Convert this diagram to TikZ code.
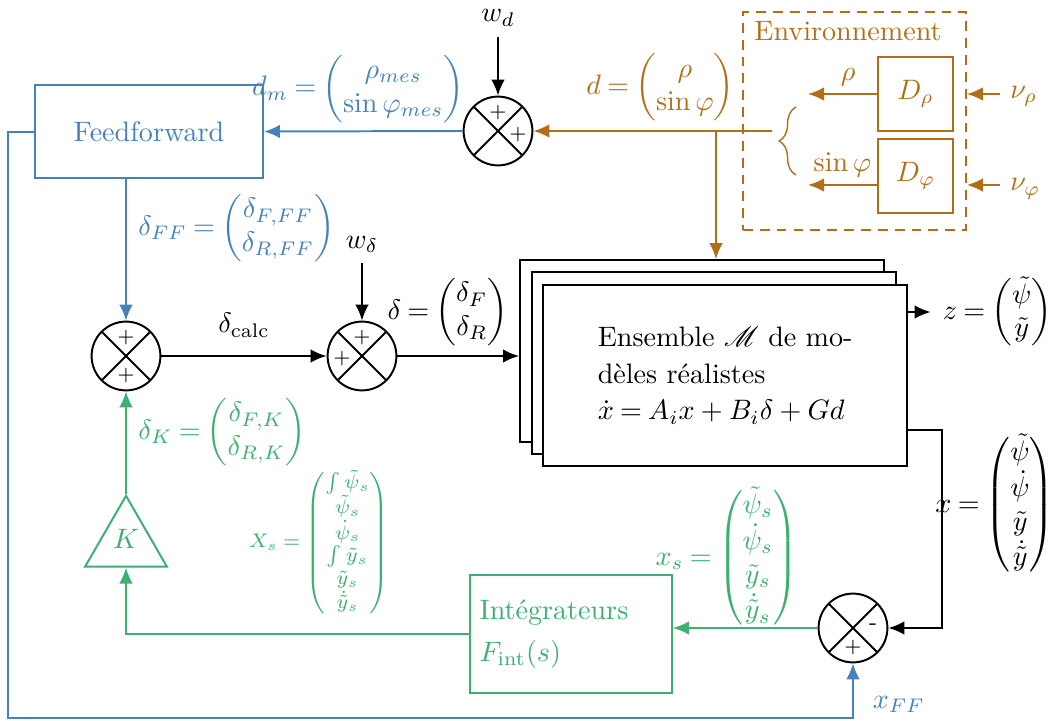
\documentclass[tikz,border=0pt]{standalone}
\usepackage{amsmath}
\usepackage{mathrsfs}
\usepackage{tikz}
\usetikzlibrary{arrows.meta,positioning,shapes.geometric,calc,decorations.pathreplacing}
\definecolor{ffblue}{RGB}{70,130,185}
\definecolor{envbrown}{RGB}{178,110,22}
\definecolor{fbgreen}{RGB}{60,176,110}
\thickmuskip=4mu plus 2mu

\begin{document}
\begin{tikzpicture}[
  line width=0.7pt, >={Latex[length=2mm,width=1.7mm]},
  block/.style={draw, rectangle, inner sep=0},
  sumnode/.style={draw, circle, minimum size=0.86cm, inner sep=0,
                  path picture={\draw (path picture bounding box.north west) -- (path picture bounding box.south east)
                                      (path picture bounding box.north east) -- (path picture bounding box.south west);}},
  sign/.style={font=\scriptsize, inner sep=0},
  model/.style={draw, fill=white, minimum width=4.55cm, minimum height=2.27cm},
]
\useasboundingbox (0,0) rectangle (13.2125,9.0);

% feedforward
\node[block, draw=ffblue, text=ffblue, minimum width=2.85cm, minimum height=1.16cm] (ff) at (1.8625,7.356) {Feedforward};

% summing junctions
\node[sumnode] (s1) at (6.225,7.3625) {};
\node[sign] at ($(s1)+(0,0.23)$) {$+$};
\node[sign] at ($(s1)+(0.25,-0.04)$) {$+$};
\node[sumnode] (s2) at (1.575,4.55) {};
\node[sign] at ($(s2)+(0,0.23)$) {$+$};
\node[sign] at ($(s2)+(0,-0.25)$) {$+$};
\node[sumnode] (s3) at (4.525,4.55) {};
\node[sign] at ($(s3)+(0,0.23)$) {$+$};
\node[sign] at ($(s3)+(-0.25,-0.03)$) {$+$};
\node[sumnode] (s4) at (10.6625,1.15) {};
\node[sign, font=\footnotesize] at ($(s4)+(0.25,0.02)$) {-};
\node[sign] at ($(s4)+(0,-0.24)$) {$+$};

% environnement
\node[draw=envbrown, dash pattern=on 3.5pt off 2.5pt, minimum width=2.7875cm, minimum height=2.725cm] (env) at (10.68,7.4875) {};
\node[text=envbrown] at (10.6,8.6125) {Environnement};
\node[block, draw=envbrown, text=envbrown, minimum width=0.9375cm, minimum height=0.925cm] (Drho) at (11.444,7.825) {$D_\rho$};
\node[block, draw=envbrown, text=envbrown, minimum width=0.9375cm, minimum height=0.925cm] (Dphi) at (11.444,6.8) {$D_\varphi$};
\coordinate (rhoout) at (10.1,7.825);
\coordinate (phiout) at (10.1,6.6875);
\node[text=envbrown, anchor=west] (nur) at (12.5,7.8) {$\nu_\rho$};
\node[text=envbrown, anchor=west] (nuphi) at (12.5,6.64) {$\nu_\varphi$};
\draw[envbrown, ->] (Drho.west) -- (rhoout) node[midway, above, yshift=-1pt, xshift=2pt] {$\rho$};
\draw[envbrown, ->] (Dphi.west |- phiout) -- (phiout) node[midway, above, yshift=-1pt] {$\sin\varphi$};
\draw[envbrown, ->] (nur.west |- Drho) -- (env.east |- Drho);
\draw[envbrown, ->] (nuphi.west |- phiout) -- (env.east |- phiout);
\draw[envbrown, decorate, decoration={brace, amplitude=6pt}, line width=0.5pt] (9.95,6.8125) -- (9.95,7.6625);
\coordinate (br) at (9.65,7.3625);
\coordinate (dj) at (8.95,7.3625);

% modeles
\foreach \i/\nm in {0/back, 1/mid} {
  \node[model] (\nm) at ({8.775+0.145*\i},{4.6125-0.152*\i}) {};
}
\node[model, align=left] (front) at (9.065,4.305)
  {Ensemble $\mathscr{M}$ de mo-\\[1pt]d\`eles r\'ealistes\\[1pt]$\dot x = A_i x + B_i\delta + Gd$};

% K et integrateurs
\node[regular polygon, regular polygon sides=3, draw=fbgreen, text=fbgreen, minimum size=1.18cm, inner sep=0] (K) at (1.575,2.2125) {};
\node[text=fbgreen] at (1.575,2.26) {$K$};
\node[block, draw=fbgreen, text=fbgreen, minimum width=2.525cm, minimum height=1.475cm,
      text width=2.285cm, align=left] (int) at (7.1375,1.075)
  {Int\'egrateurs\\[3pt]$F_{\text{int}}(s)$};

% labels
\node at (6.225,8.775) (wd) {$w_d$};
\node at (4.525,5.94) (wdelta) {$w_\delta$};
\node[text=ffblue, anchor=east] at (5.93,7.89) {$d_m = \begin{pmatrix}\rho_{mes}\\ \sin\varphi_{mes}\end{pmatrix}$};
\node[text=envbrown, anchor=west] at (7.2,7.91) {$d = \begin{pmatrix}\rho\\ \sin\varphi\end{pmatrix}$};
\node[text=ffblue, anchor=west] at (1.6,6.15) {$\delta_{FF} = \begin{pmatrix}\delta_{F,FF}\\ \delta_{R,FF}\end{pmatrix}$};
\node[text=fbgreen, anchor=west] at (1.6,3.6) {$\delta_K = \begin{pmatrix}\delta_{F,K}\\ \delta_{R,K}\end{pmatrix}$};
\node[anchor=east] at (6.48,5.1) {$\delta = \begin{pmatrix}\delta_F\\ \delta_R\end{pmatrix}$};
\node[anchor=east, inner xsep=1pt] (z) at (13.2,5.1) {$z = \begin{pmatrix}\tilde\psi\\ \tilde y\end{pmatrix}$};
\node[anchor=east, inner xsep=0.5pt] at (13.21,2.6875) {$x = \begin{pmatrix}\tilde\psi\\ \dot\psi\\ \tilde y\\ \dot{\tilde y}\end{pmatrix}$};
\node[text=fbgreen, anchor=east] at (10.1,2.025) {$x_s = \begin{pmatrix}\tilde\psi_s\\ \dot\psi_s\\ \tilde y_s\\ \dot{\tilde y}_s\end{pmatrix}$};
\node[text=fbgreen, font=\scriptsize, anchor=east] at (5.0,2.2125) {$X_s = \begin{pmatrix}\int\tilde\psi_s\\ \tilde\psi_s\\ \dot\psi_s\\ \int\tilde y_s\\ \tilde y_s\\ \dot{\tilde y}_s\end{pmatrix}$};
\node[text=ffblue, anchor=west] at (10.78,0.19) {$x_{FF}$};

% connections
\coordinate (xo) at (11.775,3.625);
\coordinate (ffl) at (0.1,0.025);
\draw[->] (wd) -- (s1.north);
\draw[->] (wdelta) -- (s3.north);
\draw[envbrown, ->] (br) -- (s1.east);
\draw[envbrown, ->] (dj) -- (dj |- back.north);
\draw[ffblue, ->] (s1.west) -- (ff.east);
\draw[ffblue, ->] (ff.south -| s2.north) -- (s2.north);
\draw[ffblue, ->] (ff.west) -| (ffl) -| (s4.south);
\draw[->] (s2.east) -- (s3.west) node[midway, above=3pt] {$\delta_{\text{calc}}$};
\draw[->] (s3.east) -- (s3.east -| back.west);
\draw[->] (front.east |- z) -- ([xshift=-3pt]z.west);
\draw[->] (xo -| front.east) -- (xo) |- (s4.east);
\draw[fbgreen, ->] (s4.west) -- (s4.west -| int.east);
\draw[fbgreen, ->] (int.west) -| (K.south);
\draw[fbgreen, ->] (K.north) -- (s2.south);
\end{tikzpicture}
\end{document}
